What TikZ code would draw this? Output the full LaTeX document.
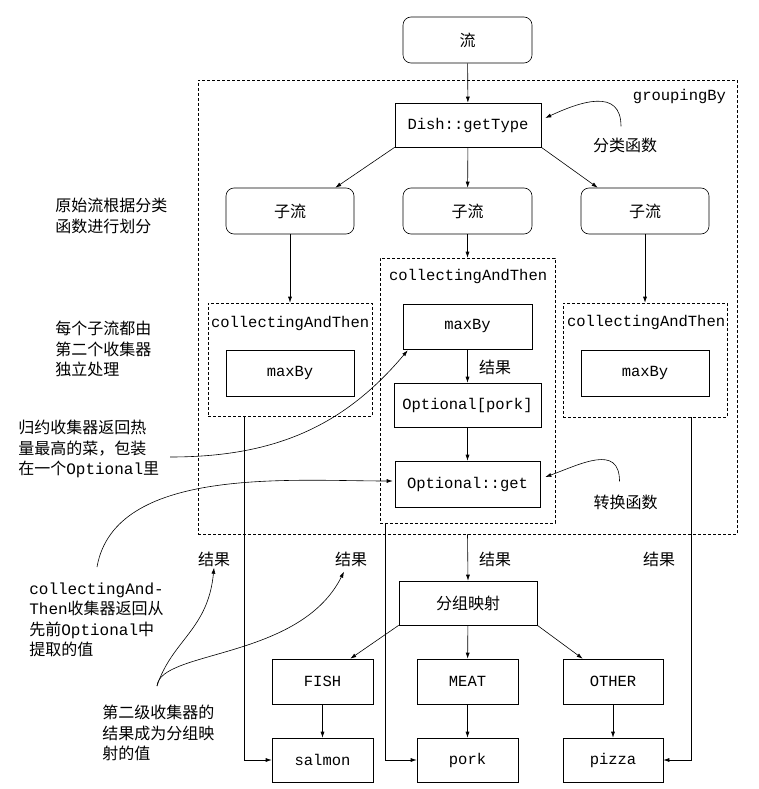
\documentclass[tikz,border=0pt]{standalone}
\usepackage{fontspec}
\setmainfont{Noto Sans CJK SC}
\setmonofont{Liberation Mono}
\usetikzlibrary{arrows.meta,calc}

\tikzset{
  box/.style={draw, inner sep=0pt, font={\fontsize{15.5}{20}\selectfont\ttfamily}},
  flow/.style={draw, inner sep=0pt, rounded corners=8pt, font={\fontsize{16}{20}\selectfont}},
  dbox/.style={draw, dash pattern=on 3pt off 2pt, inner sep=0pt},
  mono/.style={inner sep=0pt, font={\fontsize{15.5}{20}\selectfont\ttfamily}},
  note/.style={align=left, inner sep=0pt, font={\fontsize{16}{20.5}\selectfont}},
  res/.style={inner sep=1pt, font={\fontsize{16}{20}\selectfont}},
}

\begin{document}
\begin{tikzpicture}[x=1pt, y=1pt, line width=0.6pt, >={Latex[length=6pt,width=4pt]}]
\useasboundingbox (0,0) rectangle (759,-789);

% stream and classification
\node[flow, minimum width=129, minimum height=46] (stream) at (467.5,-40) {流};
\node[dbox, minimum width=539, minimum height=454] (grp) at (467.5,-307) {};
\node[mono, anchor=east] (gb) at ($(grp.north east)+(-11,-17)$) {groupingBy};
\node[box, minimum width=146, minimum height=44] (dish) at (468,-125) {Dish::getType};
\node[res] (cls) at (625,-145) {分类函数};

\node[flow, minimum width=128, minimum height=46] (sub1) at (290,-211) {子流};
\node[flow, minimum width=129, minimum height=46] (sub2) at (467.5,-211) {子流};
\node[flow, minimum width=128, minimum height=46] (sub3) at (645,-211) {子流};

% collectingAndThen boxes
\node[dbox, minimum width=164, minimum height=113] (cat1) at (290,-359.5) {};
\node[mono, anchor=west] (lab1) at ($(cat1.north west)+(3,-21)$) {collectingAndThen};
\node[box, minimum width=128, minimum height=46] (max1) at (290,-373) {maxBy};

\node[dbox, minimum width=175, minimum height=265] (cat2) at (467.5,-390.5) {};
\node[mono, anchor=west] (lab2) at ($(cat2.north west)+(9,-19)$) {collectingAndThen};
\node[box, minimum width=129, minimum height=45] (max2) at (467.5,-326.5) {maxBy};
\node[box, minimum width=147, minimum height=44] (optpork) at (467.5,-405) {Optional[pork]};
\node[box, minimum width=145, minimum height=46] (optget) at (467.5,-484) {Optional::get};
\node[res] (r0) at (495,-367) {结果};
\node[res] (conv) at (625.5,-502) {转换函数};

\node[dbox, minimum width=164, minimum height=114] (cat3) at (645,-360) {};
\node[mono, anchor=west] (lab3) at ($(cat3.north west)+(4,-20)$) {collectingAndThen};
\node[box, minimum width=128, minimum height=46] (max3) at (645,-373) {maxBy};

% grouping map
\node[res] (r1) at (214,-559) {结果};
\node[res] (r2) at (351,-559) {结果};
\node[res] (r3) at (495,-559) {结果};
\node[res] (r4) at (659,-559) {结果};
\node[box, font={\fontsize{16}{20}\selectfont}, minimum width=138, minimum height=44] (map) at (468,-603) {分组映射};

\node[box, minimum width=101, minimum height=45] (fish) at (322.5,-681.5) {FISH};
\node[box, minimum width=101, minimum height=45] (meat) at (467.5,-681.5) {MEAT};
\node[box, minimum width=100, minimum height=45] (other) at (613,-681.5) {OTHER};
\node[box, minimum width=101, minimum height=44] (salmon) at (322.5,-760) {salmon};
\node[box, minimum width=101, minimum height=44] (pork) at (467.5,-760) {pork};
\node[box, minimum width=100, minimum height=44] (pizza) at (613,-760) {pizza};

% notes
\node[note, anchor=west] (t1) at (55,-216) {原始流根据分类\\函数进行划分};
\node[note, anchor=west] (t2) at (55,-349) {每个子流都由\\第二个收集器\\独立处理};
\node[note, anchor=west] (t3) at (18,-449) {归约收集器返回热\\量最高的菜，包装\\在一个\texttt{Optional}里};
\node[note, anchor=west] (t4) at (29,-620) {\texttt{collectingAnd-}\\\texttt{Then}收集器返回从\\先前\texttt{Optional}中\\提取的值};
\node[note, anchor=west] (t5) at (102,-733) {第二级收集器的\\结果成为分组映\\射的值};

\coordinate (c3s) at (170,-457);
\coordinate (c4s) at (97,-567);
\coordinate (c5s) at (157,-686);

% connectors
\draw[->] (stream) -- (dish);
\draw[->] (dish.south west) -- ($(sub1.north east)+(-19,0)$);
\draw[->] (dish) -- (sub2);
\draw[->] (dish.south east) -- ($(sub3.north west)+(17,0)$);
\draw[->] (sub1) -- (cat1);
\draw[->] (sub2) -- (cat2);
\draw[->] (sub3) -- (cat3);
\draw[->] (max2) -- (optpork);
\draw[->] (optpork) -- (optget);

\draw[->] (grp.south) -- (map.north);
\draw[->] (map.south west) -- ($(fish.north east)+(-23,0)$);
\draw[->] (map) -- (meat);
\draw[->] (map.south east) -- ($(other.north west)+(20,0)$);
\draw[->] (fish) -- (salmon);
\draw[->] (meat) -- (pork);
\draw[->] (other) -- (pizza);

\draw[->] ($(cat1.south west)+(37,0)$) |- (salmon.west);
\draw[->] ($(cat2.south west)+(6,0)$) |- (pork.west);
\draw[->] ($(cat3.south east)+(-36,0)$) |- (pizza.east);

% curved pointers
\draw[->] ($(cls.north)+(-4,10)$) to[out=90,in=25,looseness=1.3] ($(dish.east)+(4,7)$);
\draw[->] ($(conv.north)+(-6,12)$) to[out=90,in=20,looseness=1.3] ($(optget.east)+(5,7)$);
\draw[->] (c3s) to[out=0,in=-130] ($(max2.south west)+(5,-1)$);
\draw[->] (c4s) to[out=80,in=180,looseness=0.85] ($(optget.west)+(-2,3)$);
\draw[->] (c5s) .. controls (172,-640) and (208,-630) .. (r1.south);
\draw[->] (c5s) .. controls (160,-650) and (300,-660) .. ($(r2.south)+(-7,-4)$);
\end{tikzpicture}
\end{document}
